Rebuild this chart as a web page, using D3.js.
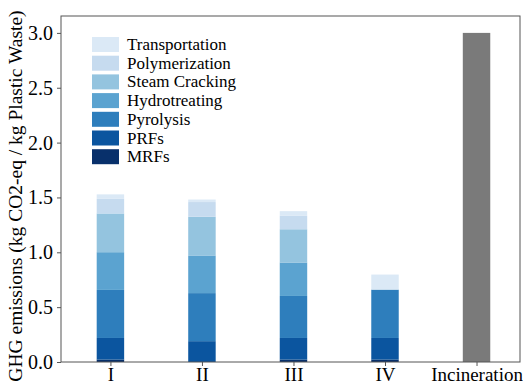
<!DOCTYPE html>
<meta charset="utf-8">
<style>
body { margin: 0; background: #fff; }
.axis path, .axis line { stroke: #555; }
</style>
<svg id="chart" width="523" height="389" font-family="Liberation Serif"></svg>
<script src="https://cdn.jsdelivr.net/npm/d3@7"></script>
<script>
// scenarios on the x axis
var scenarios = ["I", "II", "III", "IV", "Incineration"];
// stacked stages, bottom to top
var stages = ["MRFs", "PRFs", "Pyrolysis", "Hydrotreating", "Steam Cracking", "Polymerization", "Transportation"];
var stageColors = ["#08306b", "#0b559f", "#2e7ebc", "#5ba3d0", "#94c4df", "#c6dbef", "#dbe9f6"];
// values per stage for scenarios I..IV (kg CO2-eq / kg plastic waste)
var mrfs           = [0.022, 0.000, 0.022, 0.022];
var prfs           = [0.197, 0.190, 0.197, 0.197];
var pyrolysis      = [0.438, 0.438, 0.383, 0.441];
var hydrotreating  = [0.344, 0.343, 0.305, 0.000];
var steamCracking  = [0.353, 0.353, 0.303, 0.000];
var polymerization = [0.133, 0.134, 0.122, 0.000];
var transportation = [0.041, 0.023, 0.043, 0.137];
var incineration = 3.0;
var yTicks = [0, 0.5, 1.0, 1.5, 2.0, 2.5, 3.0];

var series = [mrfs, prfs, pyrolysis, hydrotreating, steamCracking, polymerization, transportation];

var serif = "Liberation Serif";
var svg = d3.select("#chart");
var m = {left: 61, right: 520, top: 16, bottom: 362};

var x = d3.scaleLinear().domain([-0.54, 4.475]).range([m.left, m.right]);
var y = d3.scaleLinear().domain([0, 3.154]).range([m.bottom, m.top]);
var barW = x(0.3) - x(0);

// stacked bars
var rows = scenarios.slice(0, 4).map(function(s, i) {
  var r = {i: i};
  stages.forEach(function(st, k) { r[st] = series[k][i]; });
  return r;
});
var stack = d3.stack().keys(stages)(rows);

svg.append("g").selectAll("g")
    .data(stack)
  .enter().append("g")
    .attr("fill", function(d, k) { return stageColors[k]; })
  .selectAll("rect")
    .data(function(d) { return d; })
  .enter().append("rect")
    .attr("x", function(d) { return x(d.data.i) - barW / 2; })
    .attr("width", barW)
    .attr("y", function(d) { return y(d[1]); })
    .attr("height", function(d) { return y(d[0]) - y(d[1]); });

svg.append("rect")
    .attr("x", x(4) - barW / 2)
    .attr("width", barW)
    .attr("y", y(incineration))
    .attr("height", y(0) - y(incineration))
    .attr("fill", "#7a7a7a");

// frame
svg.append("rect")
    .attr("x", m.left).attr("y", m.top)
    .attr("width", m.right - m.left).attr("height", m.bottom - m.top)
    .attr("fill", "none").attr("stroke", "#555").attr("stroke-width", 1);

// axes
var yAxis = svg.append("g")
    .attr("class", "axis")
    .attr("transform", "translate(" + m.left + ",0)")
    .call(d3.axisLeft(y).tickValues(yTicks).tickFormat(d3.format(".1f")).tickSize(4).tickPadding(4));
yAxis.select(".domain").remove();
yAxis.attr("font-family", serif).attr("font-size", 20);
yAxis.selectAll("text").attr("fill", "#000");

var xAxis = svg.append("g")
    .attr("class", "axis")
    .attr("transform", "translate(0," + m.bottom + ")")
    .call(d3.axisBottom(x).tickValues(d3.range(scenarios.length)).tickFormat(function(d) { return scenarios[d]; }).tickSize(4).tickPadding(2));
xAxis.select(".domain").remove();
xAxis.attr("font-family", serif).attr("font-size", 19);
xAxis.selectAll("text").attr("fill", "#000");

svg.append("text")
    .attr("transform", "translate(22," + ((m.top + m.bottom) / 2 + 7) + ") rotate(-90)")
    .attr("text-anchor", "middle")
    .attr("font-family", serif)
    .attr("font-size", 19.5)
    .text("GHG emissions (kg CO2-eq / kg Plastic Waste)");

// legend, top entry first
var legend = svg.append("g").attr("transform", "translate(92,37)").attr("font-family", serif);
var order = stages.slice().reverse();
var item = legend.selectAll("g")
    .data(order)
  .enter().append("g")
    .attr("transform", function(d, i) { return "translate(0," + (i * 18.7) + ")"; });
item.append("rect")
    .attr("width", 27).attr("height", 15)
    .attr("fill", function(d) { return stageColors[stages.indexOf(d)]; });
item.append("text")
    .attr("x", 35).attr("y", 13)
    .attr("font-size", 17)
    .text(function(d) { return d; });
</script>
